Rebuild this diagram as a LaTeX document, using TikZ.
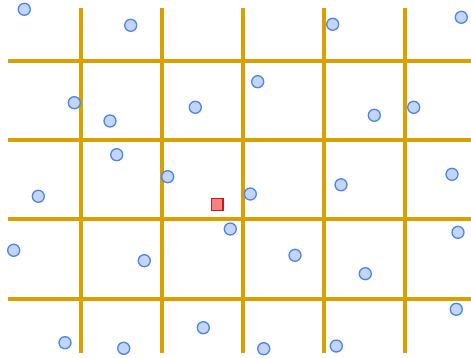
\documentclass[tikz,border=0pt]{standalone}
\usepackage{xcolor}
\usepackage{tikz}

\definecolor{gridgold}{RGB}{218,160,0}
\definecolor{ptfill}{RGB}{197,213,248}
\definecolor{ptdraw}{RGB}{74,134,232}
\definecolor{qfill}{RGB}{248,128,128}
\definecolor{qdraw}{RGB}{196,30,20}

\begin{document}
\begin{tikzpicture}[
  x=1pt, y=-1pt,
  gridline/.style = {draw=gridgold, line width=4pt},
  datapt/.style   = {circle, draw=ptdraw, fill=ptfill, line width=1.3pt,
                     minimum size=12pt, inner sep=0pt},
  query/.style    = {rectangle, draw=qdraw, fill=qfill, line width=1.2pt,
                     minimum size=11.5pt, inner sep=0pt},
]
\useasboundingbox (0,0) rectangle (471,358);

%% ── Grid cells ───────────────────────────────────────────────────────────────
\draw[gridline] (81,8)  -- (81,352.5);
\draw[gridline] (162,8) -- (162,352.5);
\draw[gridline] (243,8) -- (243,352.5);
\draw[gridline] (324,8) -- (324,352.5);
\draw[gridline] (405,8) -- (405,352.5);

\draw[gridline] (8,61)    -- (471,61);
\draw[gridline] (8,140.3) -- (471,140.3);
\draw[gridline] (8,219.3) -- (471,219.3);
\draw[gridline] (8,298.6) -- (471,298.6);

%% ── Data points ──────────────────────────────────────────────────────────────
\node[datapt] (p1)  at (24.3,9.3)    {};
\node[datapt] (p2)  at (130.7,25.3)  {};
\node[datapt] (p3)  at (332.7,24.3)  {};
\node[datapt] (p4)  at (461.3,17.3)  {};

\node[datapt] (p5)  at (74.3,102.7)  {};
\node[datapt] (p6)  at (110,121)     {};
\node[datapt] (p7)  at (195.3,107.3) {};
\node[datapt] (p8)  at (257.7,81.7)  {};
\node[datapt] (p9)  at (374.3,115.3) {};
\node[datapt] (p10) at (413.7,107.3) {};

\node[datapt] (p11) at (116.7,154.7) {};
\node[datapt] (p12) at (167.7,176.7) {};
\node[datapt] (p13) at (38.3,196.3)  {};
\node[datapt] (p14) at (250.3,194)   {};
\node[datapt] (p15) at (341,184.8)   {};
\node[datapt] (p16) at (452,174.3)   {};

\node[datapt] (p17) at (13.7,250.3)  {};
\node[datapt] (p18) at (144.3,260.7) {};
\node[datapt] (p19) at (230.3,229)   {};
\node[datapt] (p20) at (295,255.3)   {};
\node[datapt] (p21) at (365.3,273.7) {};
\node[datapt] (p22) at (458,232.3)   {};

\node[datapt] (p23) at (456.3,309.3) {};
\node[datapt] (p24) at (65,342.7)    {};
\node[datapt] (p25) at (123.7,348.3) {};
\node[datapt] (p26) at (203.3,327.7) {};
\node[datapt] (p27) at (263.7,348.7) {};
\node[datapt] (p28) at (336.3,346)   {};

%% ── Query point ──────────────────────────────────────────────────────────────
\node[query] (q) at (217.3,204.5) {};

\end{tikzpicture}
\end{document}
